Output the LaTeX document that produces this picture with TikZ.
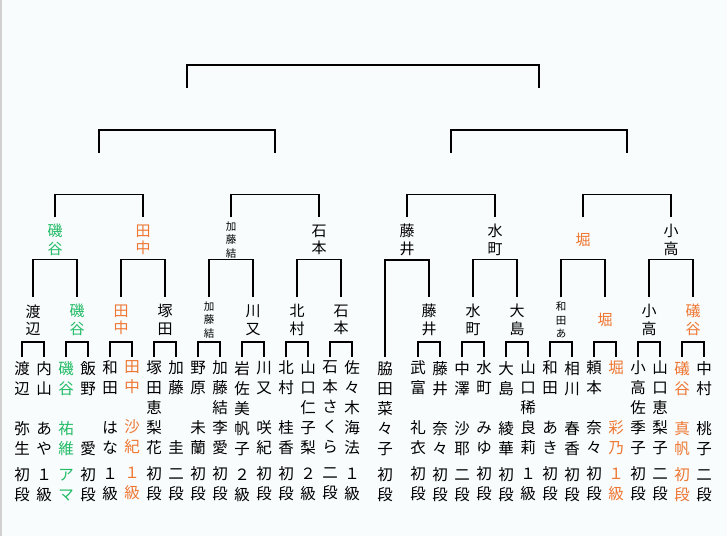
\documentclass[tikz,border=0pt]{standalone}
\usepackage{fontspec}
\newfontfamily\cjk{Noto Sans CJK JP}
\usetikzlibrary{positioning}
\definecolor{bg}{HTML}{F8FCFC}
\definecolor{grn}{HTML}{22BB66}
\definecolor{org}{HTML}{EE7733}

\begin{document}
\begin{tikzpicture}[x=1pt,y=-1pt,
  player/.style={font=\cjk\fontsize{15.5}{20}\selectfont,align=center,anchor=north,
    inner sep=0pt,outer ysep=4pt},
  winner/.style={font=\cjk\fontsize{15}{17.5}\selectfont,align=center,inner sep=0pt,
    minimum height=44pt},
  winsmall/.style={winner,font=\cjk\fontsize{10.5}{13.5}\selectfont}]
\tikzstyle{every path}=[line width=1.1pt];
\useasboundingbox (0,0) rectangle (727,536);
\fill[bg] (0,0) rectangle (727,536);
\draw[black!18,line width=1.5pt] (0.75,0) -- (0.75,536);

% players
\node[player] (p1) at (22,357) {渡\\辺\\{}\\弥\\生\\[6pt]初\\段};
\node[player] (p2) at (44,357) {内\\山\\{}\\あ\\や\\[6pt]１\\級};
\node[player,text=grn] (p3) at (66,357) {磯\\谷\\{}\\祐\\維\\[6pt]ア\\マ};
\node[player] (p4) at (88,357) {飯\\野\\{}\\{}\\愛\\[6pt]初\\段};
\node[player] (p5) at (110,357) {和\\田\\{}\\は\\な\\[6pt]１\\級};
\node[player,text=org] (p6) at (132,357) {田\\中\\{}\\沙\\紀\\[6pt]１\\級};
\node[player] (p7) at (154,357) {塚\\田\\恵\\梨\\花\\[6pt]初\\段};
\node[player] (p8) at (176,357) {加\\藤\\{}\\{}\\圭\\[6pt]二\\段};
\node[player] (p9) at (198,357) {野\\原\\{}\\未\\蘭\\[6pt]初\\段};
\node[player] (p10) at (220,357) {加\\藤\\結\\李\\愛\\[6pt]初\\段};
\node[player] (p11) at (242,357) {岩\\佐\\美\\帆\\子\\[6pt]２\\級};
\node[player] (p12) at (264,357) {川\\又\\{}\\咲\\紀\\[6pt]初\\段};
\node[player] (p13) at (286,357) {北\\村\\{}\\桂\\香\\[6pt]初\\段};
\node[player] (p14) at (308,357) {山\\口\\仁\\子\\梨\\[6pt]２\\級};
\node[player] (p15) at (330,357) {石\\本\\さ\\く\\ら\\[6pt]二\\段};
\node[player] (p16) at (352,357) {佐\\々\\木\\海\\法\\[6pt]１\\級};
\node[player] (p17) at (385,357) {脇\\田\\菜\\々\\子\\[6pt]初\\段};
\node[player] (p18) at (418,357) {武\\富\\{}\\礼\\衣\\[6pt]初\\段};
\node[player] (p19) at (440,357) {藤\\井\\{}\\奈\\々\\[6pt]初\\段};
\node[player] (p20) at (462,357) {中\\澤\\{}\\沙\\耶\\[6pt]二\\段};
\node[player] (p21) at (484,357) {水\\町\\{}\\み\\ゆ\\[6pt]初\\段};
\node[player] (p22) at (506,357) {大\\島\\{}\\綾\\華\\[6pt]初\\段};
\node[player] (p23) at (528,357) {山\\口\\稀\\良\\莉\\[6pt]１\\級};
\node[player] (p24) at (550,357) {和\\田\\{}\\あ\\き\\[6pt]初\\段};
\node[player] (p25) at (572,357) {相\\川\\{}\\春\\香\\[6pt]初\\段};
\node[player] (p26) at (594,357) {頼\\本\\{}\\奈\\々\\[6pt]初\\段};
\node[player,text=org] (p27) at (616,357) {堀\\{}\\{}\\彩\\乃\\[6pt]１\\級};
\node[player] (p28) at (638,357) {小\\高\\佐\\季\\子\\[6pt]初\\段};
\node[player] (p29) at (660,357) {山\\口\\恵\\梨\\子\\[6pt]二\\段};
\node[player,text=org] (p30) at (682,357) {礒\\谷\\{}\\真\\帆\\[6pt]初\\段};
\node[player] (p31) at (704,357) {中\\村\\{}\\桃\\子\\[6pt]二\\段};

% second round
\node[winner] (w1) at (33,320) {渡\\辺};
\node[winner,text=grn] (w2) at (77,320) {磯\\谷};
\node[winner,text=org] (w3) at (121,320) {田\\中};
\node[winner] (w4) at (165,320) {塚\\田};
\node[winsmall] (w5) at (209,320) {加\\藤\\結};
\node[winner] (w6) at (253,320) {川\\又};
\node[winner] (w7) at (297,320) {北\\村};
\node[winner] (w8) at (341,320) {石\\本};
\node[winner] (w9) at (429,320) {藤\\井};
\node[winner] (w10) at (473,320) {水\\町};
\node[winner] (w11) at (517,320) {大\\島};
\node[winsmall] (w12) at (561,320) {和\\田\\あ};
\node[winner,text=org] (w13) at (605,320) {堀};
\node[winner] (w14) at (649,320) {小\\高};
\node[winner,text=org] (w15) at (693,320) {礒\\谷};

% quarter finals
\node[winner,text=grn] (v1) at (55,240) {磯\\谷};
\node[winner,text=org] (v2) at (143,240) {田\\中};
\node[winsmall] (v3) at (231,240) {加\\藤\\結};
\node[winner] (v4) at (319,240) {石\\本};
\node[winner] (v5) at (407,240) {藤\\井};
\node[winner] (v6) at (495,240) {水\\町};
\node[winner,text=org] (v7) at (583,240) {堀};
\node[winner] (v8) at (671,240) {小\\高};

% empty slots
\coordinate (q1) at (99,153);
\coordinate (q2) at (275,153);
\coordinate (q3) at (451,153);
\coordinate (q4) at (627,153);
\coordinate (f1) at (187,88);
\coordinate (f2) at (539,88);

% first round
\draw (p1.north) -- ++(0,-15) -| (p2.north);
\draw (p3.north) -- ++(0,-15) -| (p4.north);
\draw (p5.north) -- ++(0,-15) -| (p6.north);
\draw (p7.north) -- ++(0,-15) -| (p8.north);
\draw (p9.north) -- ++(0,-15) -| (p10.north);
\draw (p11.north) -- ++(0,-15) -| (p12.north);
\draw (p13.north) -- ++(0,-15) -| (p14.north);
\draw (p15.north) -- ++(0,-15) -| (p16.north);
\draw (p18.north) -- ++(0,-15) -| (p19.north);
\draw (p20.north) -- ++(0,-15) -| (p21.north);
\draw (p22.north) -- ++(0,-15) -| (p23.north);
\draw (p24.north) -- ++(0,-15) -| (p25.north);
\draw (p26.north) -- ++(0,-15) -| (p27.north);
\draw (p28.north) -- ++(0,-15) -| (p29.north);
\draw (p30.north) -- ++(0,-15) -| (p31.north);

% second round
\draw (w1.north) -- ++(0,-38) -| (w2.north);
\draw (w3.north) -- ++(0,-38) -| (w4.north);
\draw (w5.north) -- ++(0,-38) -| (w6.north);
\draw (w7.north) -- ++(0,-38) -| (w8.north);
\draw (p17.north) -- ++(0,-97) -| (w9.north);
\draw (w10.north) -- ++(0,-38) -| (w11.north);
\draw (w12.north) -- ++(0,-38) -| (w13.north);
\draw (w14.north) -- ++(0,-38) -| (w15.north);

% quarter finals and up
\draw (v1.north) -- ++(0,-23) -| (v2.north);
\draw (v3.north) -- ++(0,-23) -| (v4.north);
\draw (v5.north) -- ++(0,-23) -| (v6.north);
\draw (v7.north) -- ++(0,-23) -| (v8.north);
\draw (q1) -- ++(0,-23) -| (q2);
\draw (q3) -- ++(0,-23) -| (q4);
\draw (f1) -- ++(0,-23) -| (f2);
\end{tikzpicture}
\end{document}
